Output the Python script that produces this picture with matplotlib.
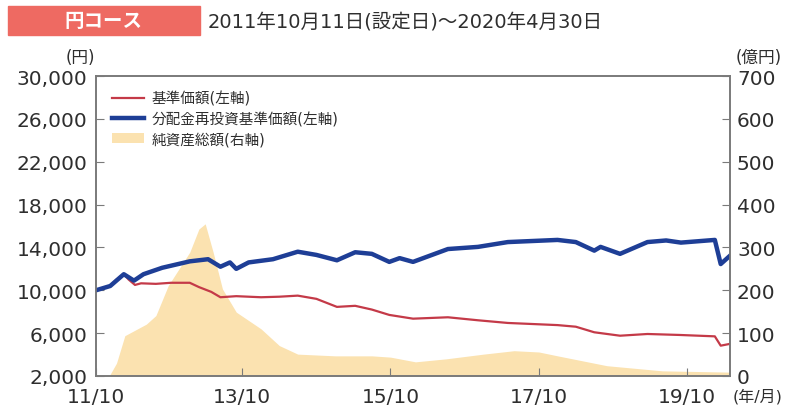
import pandas as pd
import matplotlib.pyplot as plt
from matplotlib.patches import Rectangle

plt.rcParams['font.family'] = ['DejaVu Sans', 'Noto Sans CJK JP']

# --- data ---
nav_dates = ['2011-10-11', '2011-11-15', '2011-12-20', '2012-01-20', '2012-02-25',
             '2012-03-20', '2012-04-20', '2012-05-20', '2012-08-01', '2012-10-15',
             '2013-01-15', '2013-03-01', '2013-05-01', '2013-06-15', '2013-09-01',
             '2014-01-01', '2014-04-01', '2014-07-01', '2014-10-01', '2015-01-10',
             '2015-04-10', '2015-07-01', '2015-09-25', '2016-01-20', '2016-07-10',
             '2016-12-05', '2017-05-01', '2018-01-01', '2018-04-01', '2018-07-01',
             '2018-11-05', '2019-03-20', '2019-08-25', '2020-02-15', '2020-03-15',
             '2020-04-30']
nav = [10000, 10200, 10400, 11000, 11500,
       11000, 10500, 10650, 10600, 10700,
       10700, 10300, 9850, 9350, 9450,
       9350, 9400, 9500, 9200, 8450,
       8550, 8200, 7700, 7350, 7480,
       7200, 6950, 6750, 6600, 6080,
       5760, 5920, 5830, 5700, 4830,
       5000]

reinv_dates = ['2011-10-11', '2011-12-20', '2012-02-25', '2012-04-15', '2012-06-01',
               '2012-09-01', '2013-01-15', '2013-04-15', '2013-06-15', '2013-08-01',
               '2013-09-01', '2013-11-01', '2014-03-01', '2014-07-01', '2014-10-01',
               '2015-01-10', '2015-04-10', '2015-07-01', '2015-09-25', '2015-11-15',
               '2016-01-20', '2016-07-10', '2016-12-05', '2017-05-01', '2018-01-01',
               '2018-04-01', '2018-07-01', '2018-08-01', '2018-11-05', '2019-03-20',
               '2019-06-20', '2019-09-01', '2020-02-15', '2020-03-15', '2020-04-30']
reinv = [10000, 10400, 11500, 10900, 11500,
         12100, 12700, 12900, 12200, 12600,
         12000, 12600, 12900, 13600, 13300,
         12800, 13550, 13400, 12650, 13000,
         12650, 13850, 14050, 14500, 14700,
         14500, 13700, 14050, 13400, 14500,
         14650, 14450, 14700, 12450, 13230]

asset_dates = ['2011-10-11', '2011-12-15', '2012-01-20', '2012-03-01', '2012-06-15',
               '2012-08-01', '2012-10-01', '2013-01-15', '2013-03-01', '2013-04-01',
               '2013-05-10', '2013-06-25', '2013-09-01', '2014-01-01', '2014-04-01',
               '2014-07-01', '2015-01-01', '2015-07-01', '2015-10-01', '2016-02-01',
               '2016-07-01', '2017-01-01', '2017-06-01', '2017-10-01', '2018-01-01',
               '2018-09-01', '2019-06-01', '2020-04-30']
assets = [0, 0, 30, 94, 121,
          141, 211, 289, 343, 355,
          289, 203, 149, 110, 71,
          51, 47, 47, 44, 33,
          40, 51, 59, 56, 47,
          24, 12, 9]

xtick_dates = ['2011-10-11', '2013-10-01', '2015-10-01', '2017-10-01', '2019-10-01']
xtick_labels = ['11/10', '13/10', '15/10', '17/10', '19/10']
left_ticks = [2000, 6000, 10000, 14000, 18000, 22000, 26000, 30000]
right_ticks = [0, 100, 200, 300, 400, 500, 600, 700]

red = '#C43A48'
blue = '#1E3E96'
fill_c = '#FBE2B0'
spine_c = '#7a7a7a'
text_c = '#2e2e2e'

fig = plt.figure(figsize=(7.85, 4.14), dpi=100)
ax = fig.add_axes([0.1223, 0.0894, 0.8077, 0.7246])
ax2 = ax.twinx()

# net assets on the right axis, behind the lines
ax2.fill_between(pd.to_datetime(asset_dates), assets, 0, color=fill_c, lw=0,
                 label='純資産総額(右軸)')
ax.plot(pd.to_datetime(nav_dates), nav, color=red, lw=1.6, label='基準価額(左軸)')
ax.plot(pd.to_datetime(reinv_dates), reinv, color=blue, lw=3.2,
        label='分配金再投資基準価額(左軸)')
ax.set_zorder(ax2.get_zorder() + 1)
ax.patch.set_visible(False)

ax.set_xlim(pd.Timestamp('2011-10-11'), pd.Timestamp('2020-04-30'))
ax.set_ylim(2000, 30000)
ax2.set_ylim(0, 700)

ax.set_yticks(left_ticks, labels=[f'{v:,}' for v in left_ticks])
ax2.set_yticks(right_ticks, labels=[str(v) for v in right_ticks])
ax.set_xticks(pd.to_datetime(xtick_dates), labels=xtick_labels)

for a in (ax, ax2):
    for s in a.spines.values():
        s.set_color(spine_c)
        s.set_linewidth(1.2)
ax.tick_params(axis='both', direction='in', length=6, color=spine_c,
               labelsize=14.5, labelcolor=text_c, pad=6)
ax.tick_params(axis='x', pad=8)
ax2.tick_params(axis='y', direction='in', length=6, color=spine_c,
                labelsize=14.5, labelcolor=text_c, pad=5)

# legend
h1, l1 = ax.get_legend_handles_labels()
h2, l2 = ax2.get_legend_handles_labels()
leg = ax.legend(h1 + h2, l1 + l2, loc='upper left', bbox_to_anchor=(0.005, 0.995),
                frameon=False, fontsize=10.5, handlelength=2.2, handletextpad=0.5,
                labelspacing=0.35)
for t in leg.get_texts():
    t.set_color(text_c)

# axis unit labels
fig.text(80 / 785, 1 - 58 / 414, '(円)', ha='center', va='center', fontsize=12,
         color=text_c)
fig.text(782 / 785, 1 - 58 / 414, '(億円)', ha='right', va='center', fontsize=12,
         color=text_c)
fig.text(782 / 785, 1 - 397 / 414, '(年/月)', ha='right', va='center', fontsize=11.5,
         color=text_c)

# header
fig.patches.append(Rectangle((8 / 785, 1 - 36 / 414), 192 / 785, 29 / 414,
                             transform=fig.transFigure, color='#EE6A62', zorder=0))
fig.text(103 / 785, 1 - 21.5 / 414, '円コース', ha='center', va='center',
         fontsize=14, color='white', fontweight='bold')
fig.text(208 / 785, 1 - 21.5 / 414, '2011年10月11日(設定日)～2020年4月30日',
         ha='left', va='center', fontsize=14, color=text_c)

fig.savefig('out.png', dpi=100)
